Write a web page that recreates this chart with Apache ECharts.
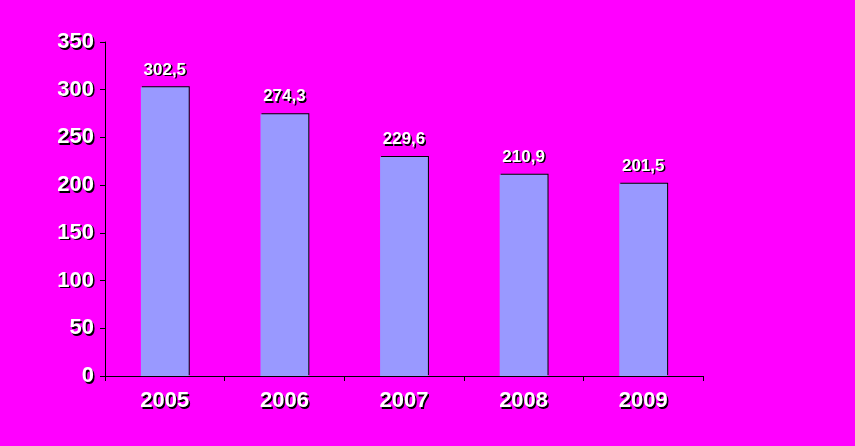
<!DOCTYPE html>
<html>
<head>
<meta charset="utf-8">
<script src="https://cdn.jsdelivr.net/npm/echarts@6/dist/echarts.min.js"></script>
<style>
html,body{margin:0;padding:0;background:#FF00FF;}
#chart{width:855px;height:446px;}
</style>
</head>
<body>
<div id="chart"></div>
<script>
const categories = ['2005', '2006', '2007', '2008', '2009'];
const values = [302.5, 274.3, 229.6, 210.9, 201.5];
const valueLabels = ['302,5', '274,3', '229,6', '210,9', '201,5'];

const textStyle = {
  color: '#ffffff',
  fontWeight: 'bold',
  fontFamily: 'Liberation Sans, Arial, sans-serif',
  textShadowColor: '#000000',
  textShadowOffsetX: 1.5,
  textShadowOffsetY: 1.5,
  textShadowBlur: 0.5
};

const chart = echarts.init(document.getElementById('chart'));
chart.setOption({
  backgroundColor: '#FF00FF',
  animation: false,
  grid: { left: 105, right: 152, top: 42, bottom: 70 },
  xAxis: {
    type: 'category',
    data: categories,
    axisLine: { lineStyle: { color: '#000', width: 1 } },
    axisTick: { show: true, length: 5, lineStyle: { color: '#000' } },
    axisLabel: Object.assign({ fontSize: 22, margin: 14 }, textStyle)
  },
  yAxis: {
    type: 'value',
    min: 0, max: 350, interval: 50,
    splitLine: { show: false },
    axisLine: { show: true, lineStyle: { color: '#000', width: 1 } },
    axisTick: { show: true, length: 5, lineStyle: { color: '#000' } },
    axisLabel: Object.assign({ fontSize: 22, margin: 11 }, textStyle)
  },
  series: [{
    type: 'bar',
    data: values,
    barWidth: '40%',
    itemStyle: {
      color: '#9999FF',
      shadowColor: '#000',
      shadowOffsetX: 1,
      shadowOffsetY: -1,
      shadowBlur: 0
    },
    label: Object.assign({
      show: true,
      position: 'top',
      distance: 9,
      fontSize: 17,
      formatter: p => valueLabels[p.dataIndex]
    }, textStyle)
  }]
});
</script>
</body>
</html>
